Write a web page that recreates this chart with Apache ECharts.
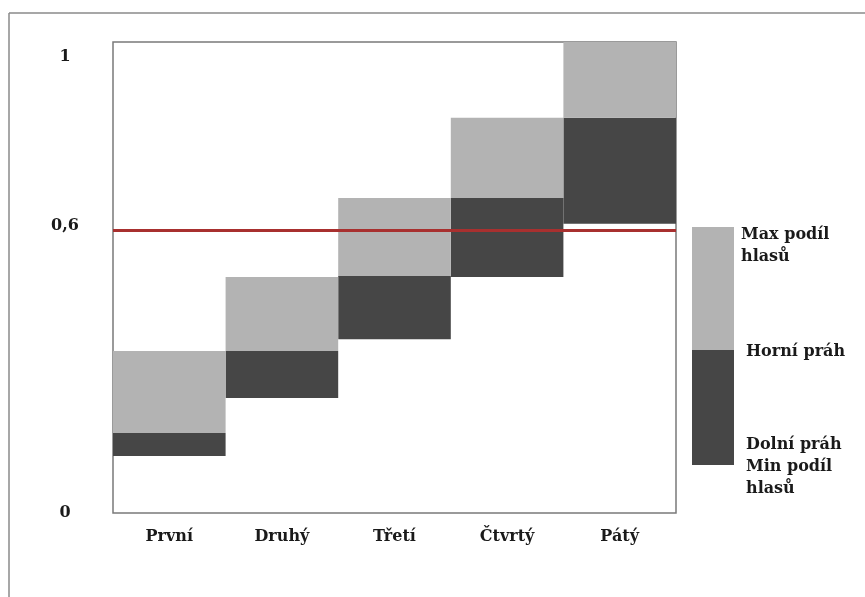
<!DOCTYPE html>
<html style="height: 100%">
<head>
    <meta charset="UTF-8">
    <title>Podíl hlasů</title>
    <script src="https://cdn.jsdelivr.net/npm/echarts/dist/echarts.min.js"></script>
    <style>
        #main {
            width: 865px;
            height: 597px;
        }
    </style>
</head>
<body style="height: 100%; margin: 0; background: #fff">
    <div id="main"></div>
    <script type="text/javascript">
        var categories = ['První', 'Druhý', 'Třetí', 'Čtvrtý', 'Pátý'];
        // min podíl hlasů = dolní práh
        var minShare = [0.121, 0.244, 0.369, 0.501, 0.614];
        var upperThreshold = [0.170, 0.344, 0.503, 0.669, 0.839];
        var maxShare = [0.344, 0.501, 0.669, 0.839, 1.0];
        var yTicks = [0, 0.6, 1];
        var cutLine = 0.6;

        var darkPart = minShare.map(function (v, i) { return +(upperThreshold[i] - v).toFixed(3); });
        var lightPart = upperThreshold.map(function (v, i) { return +(maxShare[i] - v).toFixed(3); });

        var font = 'DejaVu Serif';
        var chartDom = document.getElementById('main');
        var myChart = echarts.init(chartDom);
        var option;

        option = {
            animation: false,
            grid: {
                left: 113,
                right: 189,
                top: 42,
                bottom: 84,
                show: true,
                borderColor: '#7a7a7a',
                borderWidth: 1.5,
                backgroundColor: '#fff'
            },
            xAxis: {
                type: 'category',
                data: categories,
                axisLine: { show: false },
                axisTick: { show: false },
                axisLabel: {
                    margin: 16,
                    color: '#1a1a1a',
                    fontFamily: font,
                    fontWeight: 'bold',
                    fontSize: 16
                }
            },
            yAxis: {
                type: 'value',
                min: 0,
                max: 1,
                splitLine: { show: false },
                axisLine: { show: false },
                axisTick: { show: false },
                axisLabel: {
                    customValues: yTicks,
                    margin: 48,
                    align: 'center',
                    color: '#1a1a1a',
                    fontFamily: font,
                    fontWeight: 'bold',
                    fontSize: 16,
                    formatter: function (v) {
                        var s = String(v).replace('.', ',');
                        if (v === 1) return '{one|' + s + '}';
                        if (v === 0.6) return '{six|' + s + '}';
                        return s;
                    },
                    rich: {
                        one: { padding: [30, 0, 0, 0], fontFamily: font, fontWeight: 'bold', fontSize: 16, color: '#1a1a1a' },
                        six: { padding: [0, 0, 10, 0], fontFamily: font, fontWeight: 'bold', fontSize: 16, color: '#1a1a1a' }
                    }
                }
            },
            series: [
                {
                    name: 'base',
                    type: 'bar',
                    stack: 'share',
                    barWidth: '100%',
                    itemStyle: { color: 'transparent' },
                    data: minShare
                },
                {
                    name: 'Horní práh',
                    type: 'bar',
                    stack: 'share',
                    barWidth: '100%',
                    itemStyle: { color: '#464646' },
                    data: darkPart
                },
                {
                    name: 'Max podíl hlasů',
                    type: 'bar',
                    stack: 'share',
                    barWidth: '100%',
                    itemStyle: { color: '#b3b3b3' },
                    data: lightPart
                },
                {
                    name: 'limit',
                    type: 'line',
                    data: [],
                    z: 10,
                    markLine: {
                        silent: true,
                        symbol: 'none',
                        label: { show: false },
                        lineStyle: { color: '#a8302f', width: 3, type: 'solid' },
                        data: [{ yAxis: cutLine }]
                    }
                }
            ],
            graphic: [
                { type: 'line', shape: { x1: 9, y1: 13, x2: 865, y2: 13 }, style: { stroke: '#8a8a8a', lineWidth: 1.5 } },
                { type: 'line', shape: { x1: 9, y1: 13, x2: 9, y2: 597 }, style: { stroke: '#8a8a8a', lineWidth: 1.5 } },
                { type: 'rect', shape: { x: 692, y: 227, width: 42, height: 123 }, style: { fill: '#b3b3b3' } },
                { type: 'rect', shape: { x: 692, y: 350, width: 42, height: 115 }, style: { fill: '#464646' } },
                {
                    type: 'text', left: 741, top: 224,
                    style: { text: 'Max podíl\nhlasů', font: 'bold 16px "DejaVu Serif"', fill: '#1a1a1a', lineHeight: 22 }
                },
                {
                    type: 'text', left: 746, top: 344,
                    style: { text: 'Horní práh', font: 'bold 16px "DejaVu Serif"', fill: '#1a1a1a' }
                },
                {
                    type: 'text', left: 746, top: 434,
                    style: { text: 'Dolní práh\nMin podíl\nhlasů', font: 'bold 16px "DejaVu Serif"', fill: '#1a1a1a', lineHeight: 22 }
                }
            ]
        };

        myChart.setOption(option);
    </script>
</body>
</html>
